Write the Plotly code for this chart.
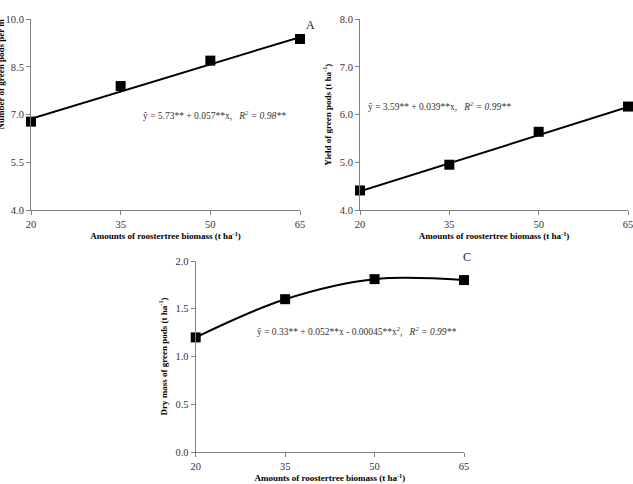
import plotly.graph_objects as go

W, H = 633, 484

biomass = [20, 35, 50, 65]
pods_number = [6.78, 7.90, 8.70, 9.38]
pods_yield = [4.41, 4.95, 5.64, 6.17]
pods_drymass = [1.20, 1.60, 1.81, 1.80]

fit_x = [20, 65]
fit_a = [6.87, 9.44]
fit_b = [4.39, 6.16]

ticks_x = [20, 35, 50, 65]
ticks_a = [4.0, 5.5, 7.0, 8.5, 10.0]
ticks_b = [4.0, 5.0, 6.0, 7.0, 8.0]
ticks_c = [0.0, 0.5, 1.0, 1.5, 2.0]

eq_a = "ŷ = 5.73** + 0.057**x,   <i>R<sup>2</sup> = 0.98**</i>"
eq_b = "ŷ = 3.59** + 0.039**x,   <i>R<sup>2</sup> = 0.99**</i>"
eq_c = "ŷ = 0.33** + 0.052**x - 0.00045**x<sup>2</sup>,   <i>R<sup>2</sup> = 0.99**</i>"

xtitle = "<b>Amounts of roostertree biomass (t ha<sup>-1</sup>)</b>"

SERIF = "Liberation Serif, Times New Roman, serif"

def px(x):
    return x / W

def py(y):
    return 1 - y / H

fig = go.Figure()

panels = [
    ("", "", pods_number, fit_x, fit_a),
    ("2", "2", pods_yield, fit_x, fit_b),
    ("3", "3", pods_drymass, None, None),
]

for sx, sy, vals, fx, fy in panels:
    xa = "x" + sx
    ya = "y" + sy
    if fx is not None:
        fig.add_trace(go.Scatter(x=fx, y=fy, mode="lines", xaxis=xa, yaxis=ya,
                                 line=dict(color="black", width=2), cliponaxis=False,
                                 showlegend=False, hoverinfo="skip"))
        fig.add_trace(go.Scatter(x=biomass, y=vals, mode="markers", xaxis=xa, yaxis=ya,
                                 marker=dict(symbol="square", size=10, color="black"),
                                 cliponaxis=False, showlegend=False))
    else:
        fig.add_trace(go.Scatter(x=biomass, y=vals, mode="lines+markers", xaxis=xa, yaxis=ya,
                                 line=dict(color="black", width=2, shape="spline", smoothing=1.0),
                                 marker=dict(symbol="square", size=10, color="black"),
                                 cliponaxis=False, showlegend=False))

axis_common = dict(showgrid=False, zeroline=False, showline=True, linecolor="#808080",
                   linewidth=1, ticks="outside", ticklen=4, tickcolor="#808080",
                   automargin=False, ticklabeloverflow="allow",
                   tickfont=dict(family=SERIF, size=10.5, color="#333333"))

def xaxis(dom, anchor):
    return dict(domain=dom, anchor=anchor, range=[20, 65], tickvals=ticks_x,
                title=dict(text=xtitle, font=dict(family=SERIF, size=9, color="black"), standoff=4),
                **axis_common)

def yaxis(dom, anchor, rng, tv, title):
    return dict(domain=dom, anchor=anchor, range=rng, tickvals=tv, tickformat=".1f",
                title=dict(text=title, font=dict(family=SERIF, size=9, color="black"), standoff=6),
                **axis_common)

fig.update_layout(
    width=W, height=H, margin=dict(l=0, r=0, t=0, b=0, autoexpand=False),
    paper_bgcolor="white", plot_bgcolor="white",
    xaxis=xaxis([px(31), px(300)], "y"),
    yaxis=yaxis([py(210), py(19.3)], "x", [4, 10], ticks_a, ""),
    xaxis2=xaxis([px(360), px(628)], "y2"),
    yaxis2=yaxis([py(210), py(19.3)], "x2", [4, 8], ticks_b,
                 "<b>Yield of green pods (t ha<sup>-1</sup>)</b>"),
    xaxis3=xaxis([px(195.7), px(464)], "y3"),
    yaxis3=yaxis([py(452), py(261)], "x3", [0, 2], ticks_c,
                 "<b>Dry mass of green pods (t ha<sup>-1</sup>)</b>"),
)

ann_font = dict(family=SERIF, size=9.5, color="#333333")
fig.add_annotation(text=eq_a, xref="paper", yref="paper", x=px(215), y=py(107),
                   showarrow=False, font=ann_font)
fig.add_annotation(text=eq_b, xref="paper", yref="paper", x=px(513), y=py(98),
                   showarrow=False, font=ann_font)
fig.add_annotation(text=eq_c, xref="paper", yref="paper", x=px(356), y=py(339),
                   showarrow=False, font=ann_font)
fig.add_annotation(text="A", xref="paper", yref="paper", x=px(310), y=py(16),
                   showarrow=False, font=dict(family=SERIF, size=12, color="#222222"))
fig.add_annotation(text="C", xref="paper", yref="paper", x=px(473), y=py(257),
                   showarrow=False, font=dict(family=SERIF, size=12, color="#222222"))
# Panel A y-title, partly cut by the left edge in the reference
fig.add_annotation(text="<b>Number of green pods per m</b>", xref="paper", yref="paper",
                   x=px(0), y=py(132), xanchor="center", yanchor="bottom", textangle=-90,
                   showarrow=False, font=dict(family=SERIF, size=9, color="black"))

fig.write_html("out.html")
